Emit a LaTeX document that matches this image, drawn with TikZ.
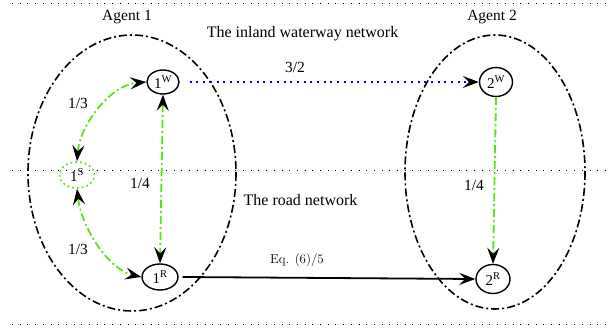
\documentclass[tikz,border=0pt]{standalone}
\usepackage{fontspec}
\setmainfont{Liberation Serif}
\newfontfamily\lmfont{Latin Modern Roman}
\usetikzlibrary{arrows.meta,shapes.geometric}
\definecolor{lime}{RGB}{85,230,20}
\tikzset{
  tip/.tip={Stealth[length=16pt,width=12pt,inset=6pt,black]},
  station/.style={draw,ellipse,line width=1.4pt,inner sep=0pt,font=\fontsize{15}{15}\selectfont},
  transfer/.style={draw=lime,ellipse,line width=1.6pt,dash pattern=on 1.8pt off 3pt,inner sep=0pt,minimum width=35pt,minimum height=26pt,font=\fontsize{15}{15}\selectfont},
  agentzone/.style={draw,line width=1.6pt,dash pattern=on 8pt off 3pt on 2pt off 3pt},
  layerline/.style={draw,line width=0.6pt,dash pattern=on 0.8pt off 6.9pt},
  greenlink/.style={draw=lime,line width=1.8pt,dash pattern=on 8pt off 3pt on 2pt off 3pt},
  waterlink/.style={draw=blue,line width=2pt,dash pattern=on 2pt off 4.7pt},
  roadlink/.style={draw,line width=1.8pt},
  lbl/.style={font=\fontsize{15.5}{15.5}\selectfont,inner sep=0pt},
  netlbl/.style={font=\fontsize{16}{16}\selectfont,inner sep=0pt}
}
\begin{document}
\begin{tikzpicture}[x=1pt,y=-1pt]
  \useasboundingbox (0,0) rectangle (615,331);

  % layer separators
  \draw[layerline] (12,3) -- (612,3);
  \draw[layerline] (12,170) -- (612,170);
  \draw[layerline] (12,324) -- (612,324);

  % agent regions
  \draw[agentzone] (132,173) ellipse [x radius=104, y radius=138];
  \draw[agentzone] (495,172) ellipse [x radius=90, y radius=137];

  % titles
  \node[lbl] (a1) at (127,17) {Agent 1};
  \node[lbl] (a2) at (492,17) {Agent 2};
  \node[netlbl] (iww) at (302.5,34) {The inland waterway network};
  \node[netlbl] (road) at (300.5,200) {The road network};

  % stations
  \node[station,minimum width=32pt,minimum height=24pt] (w1) at (163,82) {1$^{\mathrm{W}}$};
  \node[station,minimum width=33pt,minimum height=29pt] (w2) at (496,82) {2$^{\mathrm{W}}$};
  \node[station,minimum width=36pt,minimum height=26pt] (r1) at (160,277) {1$^{\mathrm{R}}$};
  \node[station,minimum width=34pt,minimum height=29pt] (r2) at (493,279) {2$^{\mathrm{R}}$};
  \node[transfer] (s1) at (77,175) {1$^{\mathrm{S}}$};

  % links
  \draw[waterlink,-tip] (w1.east) ++(10,0) -- (w2.west);
  \draw[greenlink,tip-tip] (w1.south) -- (r1.north);
  \draw[greenlink,-tip] (w2.south) -- (r2.north);
  \draw[greenlink,tip-tip] (s1.north) .. controls (80,125) and (110,85) .. (w1.west);
  \draw[greenlink,tip-tip] (s1.south) .. controls (82,230) and (110,270) .. (r1.west);
  \draw[roadlink,-tip] (r1.east) ++(4,0) -- (r2.west);

  % link labels
  \node[lbl] (c32) at (295,67) {3/2};
  \node[lbl] (c13a) at (78,103) {1/3};
  \node[lbl] (c14a) at (140,183) {1/4};
  \node[lbl] (c13b) at (78,249) {1/3};
  \node[lbl] (c14b) at (474,185) {1/4};
  \node[inner sep=0pt,font=\lmfont\fontsize{13}{13}\selectfont] (ceq) at (297,260) {Eq. (6)/5};
\end{tikzpicture}
\end{document}
